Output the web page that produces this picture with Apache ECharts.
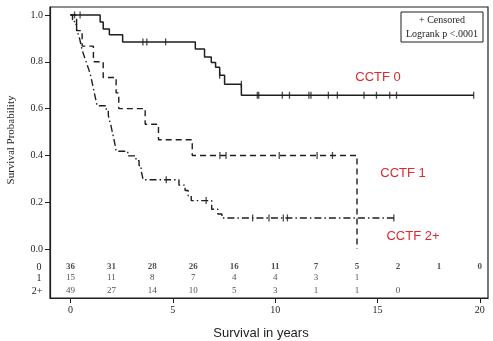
<!DOCTYPE html>
<html>
<head>
<meta charset="utf-8">
<script src="https://cdn.jsdelivr.net/npm/echarts@6/dist/echarts.min.js"></script>
<style>
html,body{margin:0;padding:0;background:#fff;}
#main{width:493px;height:341px;}
</style>
</head>
<body>
<div id="main"></div>
<script>
// Kaplan-Meier steps: [years, survival]
var cctf0 = [[0,1],[1.45,0.97],[1.6,0.94],[1.9,0.915],[2.55,0.885],[6.1,0.855],[6.55,0.82],[6.88,0.797],[7.09,0.777],[7.29,0.743],[7.53,0.704],[8.35,0.657],[19.7,0.657]];
var cctf1 = [[0,1],[0.3,0.933],[0.57,0.867],[1.12,0.8],[1.6,0.733],[2.23,0.667],[2.36,0.6],[3.65,0.533],[4.3,0.467],[5.95,0.4],[14,0]];
var cctf2 = [[0,1],[0.1,0.98],[0.2,0.959],[0.3,0.939],[0.38,0.918],[0.45,0.898],[0.5,0.878],[0.55,0.857],[0.62,0.837],[0.7,0.816],[0.78,0.796],[0.86,0.776],[0.94,0.755],[1.0,0.735],[1.05,0.714],[1.1,0.694],[1.15,0.673],[1.2,0.653],[1.25,0.633],[1.3,0.612],[1.75,0.592],[1.85,0.571],[1.9,0.551],[1.97,0.531],[2.02,0.51],[2.07,0.49],[2.12,0.469],[2.17,0.449],[2.23,0.418],[2.8,0.398],[3.2,0.378],[3.35,0.357],[3.45,0.337],[3.5,0.316],[3.55,0.296],[5.3,0.273],[5.6,0.25],[5.75,0.228],[5.9,0.207],[6.9,0.17],[7.2,0.15],[7.4,0.133],[15.8,0.133]];

// censored times
var cens0 = [[0.2,1],[0.47,1],[3.54,0.885],[3.73,0.885],[4.65,0.885],[7.29,0.743],[8.35,0.704],[9.13,0.657],[9.2,0.657],[10.35,0.657],[10.7,0.657],[11.65,0.657],[11.75,0.657],[12.6,0.657],[13.04,0.657],[14.34,0.657],[14.95,0.657],[15.6,0.657],[15.93,0.657],[19.7,0.657]];
var cens1 = [[7.3,0.4],[7.6,0.4],[10.2,0.4],[12.05,0.4],[12.8,0.4]];
var cens2 = [[4.68,0.296],[6.63,0.207],[8.9,0.133],[9.7,0.133],[10.4,0.133],[10.6,0.133],[15.8,0.133]];

// numbers at risk
var riskTimes = [0,2,4,6,8,10,12,14,16,18,20];
var risk0 = [36,31,28,26,16,11,7,5,2,1,0];
var risk1 = [15,11,8,7,4,4,3,1,null,null,null];
var risk2 = [49,27,14,10,5,3,1,1,0,null,null];
var riskNames = ['0','1','2+'];

var xTicks = [0,5,10,15,20];
var yTicks = [0,0.2,0.4,0.6,0.8,1.0];

var rowY = [-0.077,-0.124,-0.179];
var ink = '#1e1e1e';
var red = '#e0282c';
var serif = '"Liberation Serif", "DejaVu Serif", serif';
var sans = '"Liberation Sans", Arial, sans-serif';

function riskRow(vals, y){
    var out = [];
    for (var i = 0; i < riskTimes.length; i++) {
        if (vals[i] !== null) out.push([riskTimes[i], y, vals[i]]);
    }
    return out;
}

function kmLine(name, data, type, w){
    return {
        name: name, type: 'line', step: 'end', data: data,
        symbol: 'none', silent: true,
        lineStyle: {color: ink, width: w, type: type}
    };
}
function censMarks(data){
    return {
        type: 'scatter', data: data, symbol: 'rect', symbolSize: [1.3, 7],
        itemStyle: {color: ink}, silent: true, z: 3
    };
}
function riskSeries(vals, y, bold){
    return {
        type: 'scatter', data: riskRow(vals, y), symbolSize: 0, silent: true,
        label: {
            show: true, position: 'inside', color: ink,
            fontFamily: serif, fontSize: 9, fontWeight: bold ? 'bold' : 'normal',
            formatter: function(p){ return p.value[2]; }
        }
    };
}

var myChart = echarts.init(document.getElementById('main'));
var option = {
    animation: false,
    grid: {left: 50, top: 7, right: 5, bottom: 43, show: true, borderColor: ink, borderWidth: 1.2},
    xAxis: {
        type: 'value', min: -1, max: 20.4,
        axisLine: {onZero: false, lineStyle: {color: ink, width: 1.2}},
        axisTick: {customValues: xTicks, length: 5, lineStyle: {color: ink}},
        axisLabel: {customValues: xTicks, color: ink, fontFamily: serif, fontSize: 10, margin: 7},
        splitLine: {show: false}
    },
    yAxis: {
        type: 'value', min: -0.209, max: 1.034,
        axisLine: {show: true, onZero: false, lineStyle: {color: ink, width: 1.2}},
        axisTick: {show: true, customValues: yTicks, length: 5, lineStyle: {color: ink}},
        axisLabel: {customValues: yTicks, color: ink, fontFamily: serif, fontSize: 10, margin: 7,
            formatter: function(v){ return v.toFixed(1); }},
        splitLine: {show: false}
    },
    series: [
        kmLine('CCTF 0', cctf0, 'solid', 1.5),
        kmLine('CCTF 1', cctf1, [6, 4], 1.4),
        kmLine('CCTF 2+', cctf2, [7, 3, 1.5, 3], 1.4),
        censMarks(cens0), censMarks(cens1), censMarks(cens2),
        riskSeries(risk0, rowY[0], true),
        riskSeries(risk1, rowY[1], false),
        riskSeries(risk2, rowY[2], false)
    ],
    graphic: [
        {type: 'text', x: 39, y: 267, style: {text: riskNames[0], fill: ink, font: '10px ' + serif, textAlign: 'center', textVerticalAlign: 'middle'}},
        {type: 'text', x: 39, y: 278, style: {text: riskNames[1], fill: ink, font: '10px ' + serif, textAlign: 'center', textVerticalAlign: 'middle'}},
        {type: 'text', x: 37, y: 291, style: {text: riskNames[2], fill: ink, font: '10px ' + serif, textAlign: 'center', textVerticalAlign: 'middle'}},
        {type: 'text', x: 11, y: 140, rotation: Math.PI / 2,
            style: {text: 'Survival Probability', fill: ink, font: '11px ' + serif, textAlign: 'center', textVerticalAlign: 'middle'}},
        {type: 'text', x: 261, y: 333,
            style: {text: 'Survival in years', fill: ink, font: '13px ' + sans, textAlign: 'center', textVerticalAlign: 'middle'}},
        {type: 'rect', shape: {x: 401, y: 12, width: 82, height: 30},
            style: {fill: '#fff', stroke: ink, lineWidth: 1}},
        {type: 'text', x: 442, y: 20, style: {text: '+ Censored', fill: ink, font: '10px ' + serif, textAlign: 'center', textVerticalAlign: 'middle'}},
        {type: 'text', x: 442, y: 34, style: {text: 'Logrank p <.0001', fill: ink, font: '10px ' + serif, textAlign: 'center', textVerticalAlign: 'middle'}},
        {type: 'text', x: 378, y: 77, style: {text: 'CCTF 0', fill: red, font: '13px ' + sans, textAlign: 'center', textVerticalAlign: 'middle'}},
        {type: 'text', x: 403, y: 173, style: {text: 'CCTF 1', fill: red, font: '13px ' + sans, textAlign: 'center', textVerticalAlign: 'middle'}},
        {type: 'text', x: 413, y: 236, style: {text: 'CCTF 2+', fill: red, font: '13px ' + sans, textAlign: 'center', textVerticalAlign: 'middle'}}
    ]
};
if (option && typeof option == "object") {
    myChart.setOption(option, true);
}
</script>
</body>
</html>
